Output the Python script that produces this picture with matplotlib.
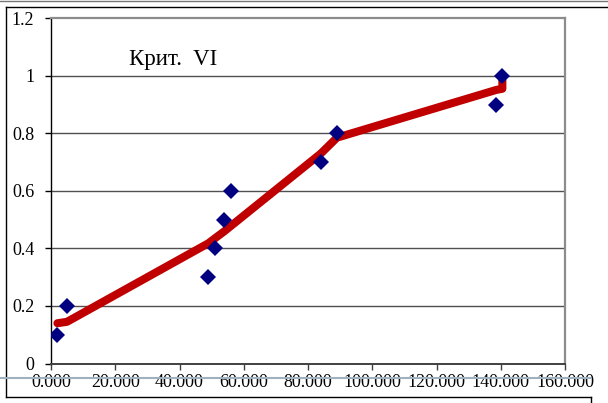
import matplotlib
matplotlib.use("Agg")
import matplotlib.pyplot as plt
from matplotlib.lines import Line2D

# Observed criterion values
obs_x = [2.0, 5.0, 49.0, 51.0, 54.0, 56.0, 84.0, 89.0, 138.6, 140.5]
obs_y = [0.1, 0.2, 0.3, 0.4, 0.5, 0.6, 0.7, 0.8, 0.9, 1.0]

# Fitted trend
fit_x = [2.0, 5.0, 49.0, 51.0, 54.0, 56.0, 84.0, 89.0, 138.6, 140.5, 140.5]
fit_y = [0.14, 0.145, 0.418, 0.435, 0.46, 0.478, 0.73, 0.785, 0.951, 0.955, 0.985]

x_ticks = [0, 20, 40, 60, 80, 100, 120, 140, 160]
x_labels = ["0.000", "20.000", "40.000", "60.000", "80.000",
            "100.000", "120.000", "140.000", "160.000"]
y_ticks = [0, 0.2, 0.4, 0.6, 0.8, 1.0, 1.2]
y_labels = ["0", "0.2", "0.4", "0.6", "0.8", "1", "1.2"]
title = "Крит.  VI"

W, H = 608, 403
plt.rcParams["font.family"] = ["Liberation Serif", "DejaVu Serif"]

fig = plt.figure(figsize=(W / 100, H / 100), dpi=100)
fig.patch.set_facecolor("white")


def fx(px):
    return px / W


def fy(py):
    return 1 - py / H


ax = fig.add_axes([fx(51), fy(363.5), (565 - 51) / W, (363.5 - 18.3) / H])
ax.set_xlim(0, 160)
ax.set_ylim(0, 1.2)

ax.plot(fit_x, fit_y, color="#C00000", lw=5.8, solid_capstyle="round",
        solid_joinstyle="round", zorder=3)
ax.plot(obs_x, obs_y, linestyle="none", marker="D", markersize=7.8,
        color="#000080", markeredgewidth=0, zorder=4)

ax.set_xticks(x_ticks)
ax.set_xticklabels(x_labels, fontsize=13)
ax.set_yticks(y_ticks)
ax.set_yticklabels(y_labels, fontsize=13)
ax.tick_params(axis="x", direction="out", length=4, width=1, color="#404040", pad=3.5)
ax.tick_params(axis="y", direction="out", length=4.5, width=1, color="black", pad=7.5)

for yv in y_ticks[1:-1]:
    ax.axhline(yv, color="#505050", lw=1.0, zorder=1)

ax.spines["left"].set_color("black")
ax.spines["left"].set_linewidth(1.0)
ax.spines["bottom"].set_color("#404040")
ax.spines["bottom"].set_linewidth(1.4)
for side in ("top", "right"):
    ax.spines[side].set_color("#8c8c8c")
    ax.spines[side].set_linewidth(1.6)

fig.text(fx(129), fy(65), title, fontsize=16.5, ha="left", va="baseline")

# Surrounding frame lines
frame = [
    ([0, W], [0.5, 0.5], "#777777", 1.0),
    ([6, W], [7, 7], "black", 1.0),
    ([6, 6], [7, 397], "black", 1.0),
    ([6, 591], [397, 397], "black", 1.0),
    ([591, 591], [397, H], "black", 1.0),
    ([0, 590], [378, 378], "#9fb0bf", 1.5),
]
for xs, ys, c, lw in frame:
    fig.add_artist(Line2D([fx(v) for v in xs], [fy(v) for v in ys],
                          color=c, lw=lw, zorder=5))

fig.savefig("out.png", dpi=100)
